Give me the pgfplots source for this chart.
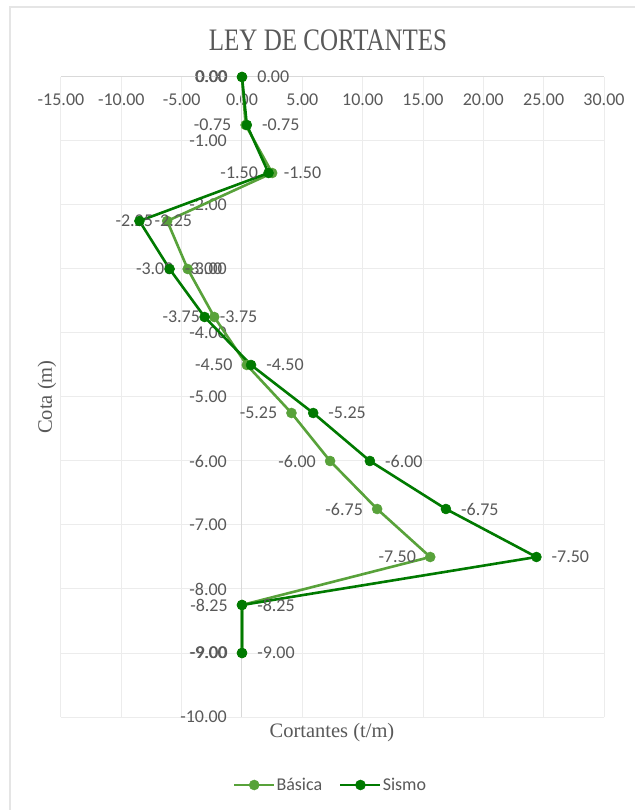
\documentclass[border=0pt]{standalone}
\usepackage{fontspec}
\setmainfont{Carlito}
\newfontfamily\titlefont{Liberation Serif}
\usepackage{pgfplots}
\pgfplotsset{compat=1.18}
\definecolor{basica}{RGB}{88,162,58}
\definecolor{sismo}{RGB}{0,122,0}
\definecolor{txt}{RGB}{89,89,89}
\begin{document}
\begin{tikzpicture}
\useasboundingbox (-61bp,-93bp) rectangle (574bp,717bp);
\fill[white] (-61bp,-93bp) rectangle (574bp,717bp);
\draw[gray!20, line width=1.5bp] (-51bp,-93bp) -- (-51bp,710bp) -- (574bp,710bp);
\node[font=\titlefont\fontsize{25bp}{28bp}\selectfont, text=txt] at (267bp,677bp) {\scalebox{1}[1.25]{LEY DE CORTANTES}};
\begin{axis}[
  at={(0,0)}, anchor=south west,
  scale only axis, width=543bp, height=640bp,
  xmin=-15, xmax=30, ymin=-10, ymax=0,
  xtick={-15,-10,...,30}, ytick={-10,-9,...,0},
  grid=major, major grid style={gray!15, line width=1bp},
  axis line style={draw=none},
  tick style={draw=none},
  /pgf/number format/fixed, /pgf/number format/fixed zerofill,
  /pgf/number format/precision=2, /pgf/number format/assume math mode=true,
  xticklabel pos=upper,
  xticklabel style={anchor=center, yshift=-23bp},
  yticklabel style={anchor=east, xshift=166bp},
  ticklabel style={font=\fontsize{18bp}{20bp}\selectfont, text=txt, inner sep=0pt},
  xlabel={\titlefont Cortantes (t/m)},
  ylabel={\titlefont Cota (m)},
  label style={font=\fontsize{20.5bp}{23bp}\selectfont, text=txt},
  xlabel style={at={(axis description cs:0.499,-0.025)}, anchor=center},
  ylabel style={at={(axis description cs:-0.0258,0.5)}, anchor=center},
  clip=false,
  legend style={at={(axis description cs:0.4954,-0.10625)}, anchor=center, draw=none,
    legend columns=2, font=\fontsize{18bp}{20bp}\selectfont, text=txt,
    /tikz/every even column/.append style={column sep=16bp},
    nodes={inner sep=1bp}},
  legend image code/.code={\draw[mark repeat=2,mark phase=2,#1] plot coordinates {(0bp,0bp) (20bp,0bp) (40bp,0bp)};},
]
\draw[gray!30, line width=1bp] (axis cs:0,0) -- (axis cs:0,-10);
\draw[gray!30, line width=1bp] (axis cs:-15,0) -- (axis cs:30,0);
\addplot[basica, line width=2.6bp, mark=*, mark size=5bp,
  mark options={solid, fill=basica, draw=basica, line width=0.5bp},
  point meta=y,
  nodes near coords={\pgfmathprintnumber[fixed,fixed zerofill,precision=2,assume math mode=true]{\pgfplotspointmeta}},
  every node near coord/.style={anchor=east, xshift=-14bp, inner sep=0pt, font=\fontsize{18bp}{20bp}\selectfont, text=txt}]
coordinates {(0,0) (0.3,-0.75) (2.5,-1.5) (-6.2,-2.25) (-4.5,-3) (-2.3,-3.75) (0.4,-4.5) (4.1,-5.25) (7.3,-6) (11.2,-6.75) (15.6,-7.5) (0,-8.25) (0,-9)};
\addlegendentry{Básica}
\addplot[sismo, line width=2.6bp, mark=*, mark size=5bp,
  mark options={solid, fill=sismo, draw=sismo, line width=0.5bp},
  point meta=y,
  nodes near coords={\pgfmathprintnumber[fixed,fixed zerofill,precision=2,assume math mode=true]{\pgfplotspointmeta}},
  every node near coord/.style={anchor=west, xshift=15bp, inner sep=0pt, font=\fontsize{18bp}{20bp}\selectfont, text=txt}]
coordinates {(0,0) (0.4,-0.75) (2.2,-1.5) (-8.5,-2.25) (-6.0,-3) (-3.1,-3.75) (0.75,-4.5) (5.9,-5.25) (10.6,-6) (16.9,-6.75) (24.4,-7.5) (0,-8.25) (0,-9)};
\addlegendentry{Sismo}
\end{axis}
\end{tikzpicture}
\end{document}
